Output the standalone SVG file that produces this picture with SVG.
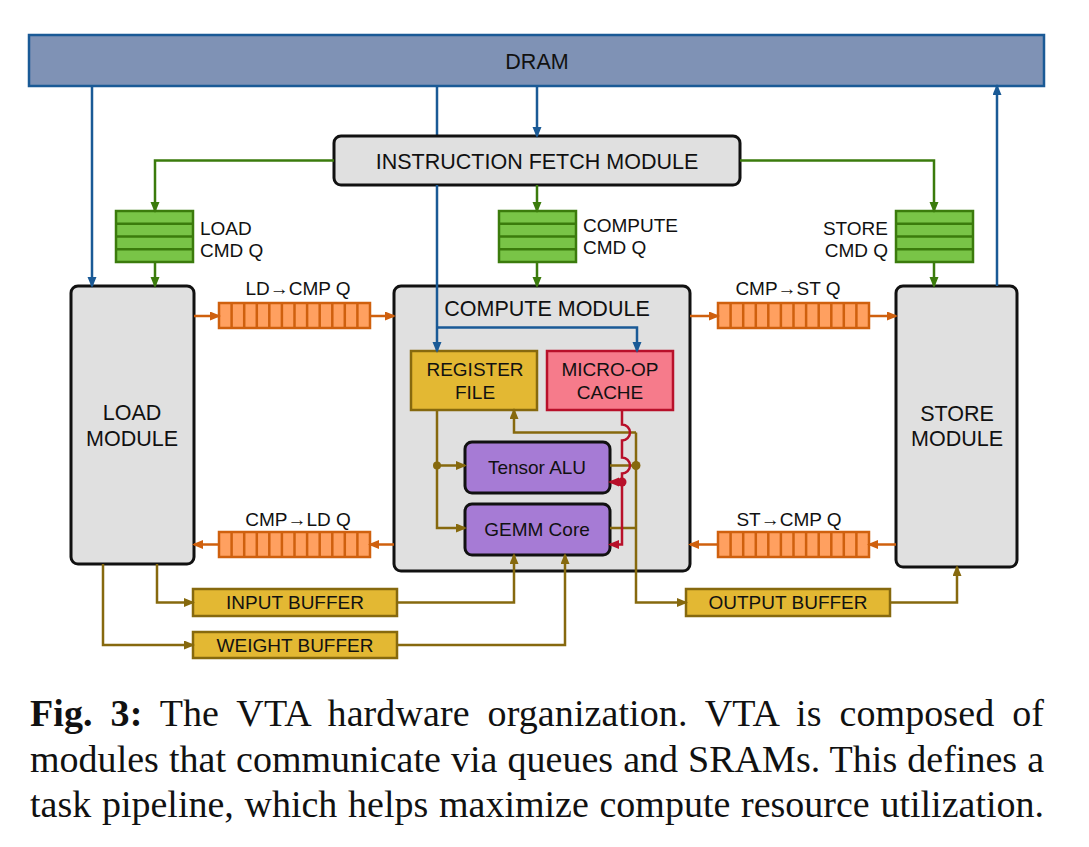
<svg xmlns="http://www.w3.org/2000/svg" width="1089" height="847" viewBox="0 0 1089 847">
<style>
  .t { font-family: "Liberation Sans", Arial, sans-serif; fill: #111; }
  .big { font-size: 21.5px; }
  .sm { font-size: 19px; }
  .mid { text-anchor: middle; }
  .end { text-anchor: end; }
  .mod { fill: #e0e0e0; stroke: #111; stroke-width: 3; }
  .pur { fill: #a67bd5; stroke: #111; stroke-width: 3; }
  .buf { fill: #e3b833; stroke: #86690e; stroke-width: 2.5; }
  .gq { fill: #79c447; stroke: #3b7b0c; stroke-width: 2.5; }
  .oq { fill: #ffa060; stroke: #cf600e; stroke-width: 2.5; }
  .oqc { stroke: #cf600e; stroke-width: 2.5; fill: none; }
  .gqc { stroke: #3b7b0c; stroke-width: 2.5; fill: none; }
  .lb { stroke: #1a5a96; stroke-width: 2.5; fill: none; }
  .lg { stroke: #3b7b0c; stroke-width: 2.5; fill: none; }
  .lo { stroke: #cf600e; stroke-width: 2.5; fill: none; }
  .ly { stroke: #86690e; stroke-width: 2.5; fill: none; }
  .lr { stroke: #b8102a; stroke-width: 2.5; fill: none; }
  .cap { font-family: "Liberation Serif", "Times New Roman", serif; font-size: 38px; fill: #111; }
</style>
<defs>
  <marker id="ab" markerUnits="userSpaceOnUse" markerWidth="12" markerHeight="10" refX="9" refY="4.5" orient="auto"><path d="M0,0 L11,4.5 L0,9 z" fill="#1a5a96"/></marker>
  <marker id="ag" markerUnits="userSpaceOnUse" markerWidth="12" markerHeight="10" refX="9" refY="4.5" orient="auto"><path d="M0,0 L11,4.5 L0,9 z" fill="#3b7b0c"/></marker>
  <marker id="ao" markerUnits="userSpaceOnUse" markerWidth="12" markerHeight="10" refX="9" refY="4.5" orient="auto"><path d="M0,0 L11,4.5 L0,9 z" fill="#cf600e"/></marker>
  <marker id="ay" markerUnits="userSpaceOnUse" markerWidth="12" markerHeight="10" refX="9" refY="4.5" orient="auto"><path d="M0,0 L11,4.5 L0,9 z" fill="#86690e"/></marker>
  <marker id="ar" markerUnits="userSpaceOnUse" markerWidth="12" markerHeight="10" refX="9" refY="4.5" orient="auto"><path d="M0,0 L11,4.5 L0,9 z" fill="#b8102a"/></marker>
</defs>
<rect width="1089" height="847" fill="#fff"/>

<!-- connectors behind the fetch box -->
<g id="connectors-back">
  <path class="lb" d="M437,86 V140"/>
</g>

<g id="dram">
  <rect x="29" y="35" width="1015" height="51" fill="#7f92b5" stroke="#1a5a96" stroke-width="2.5"/>
  <text class="t big mid" x="537" y="69">DRAM</text>
</g>

<g id="fetch">
  <rect x="334" y="136" width="406" height="49" rx="7" class="mod"/>
  <text class="t big mid" x="537" y="168.5">INSTRUCTION FETCH MODULE</text>
</g>

<g id="load-cmd-q">
  <rect x="116" y="211" width="77" height="51" class="gq"/>
  <path class="gqc" d="M116,223.75 H193 M116,236.5 H193 M116,249.25 H193"/>
  <text class="t sm" x="200" y="235">LOAD</text>
  <text class="t sm" x="200" y="257">CMD Q</text>
</g>

<g id="compute-cmd-q">
  <rect x="499" y="211" width="77" height="51" class="gq"/>
  <path class="gqc" d="M499,223.75 H576 M499,236.5 H576 M499,249.25 H576"/>
  <text class="t sm" x="583" y="232">COMPUTE</text>
  <text class="t sm" x="583" y="254">CMD Q</text>
</g>

<g id="store-cmd-q">
  <rect x="896" y="211" width="77" height="51" class="gq"/>
  <path class="gqc" d="M896,223.75 H973 M896,236.5 H973 M896,249.25 H973"/>
  <text class="t sm end" x="888" y="235">STORE</text>
  <text class="t sm end" x="888" y="257">CMD Q</text>
</g>

<g id="load-module">
  <rect x="71" y="286" width="123" height="278" rx="7" class="mod"/>
  <text class="t big mid" x="132" y="420">LOAD</text>
  <text class="t big mid" x="132" y="445.5">MODULE</text>
</g>

<g id="compute-module">
  <rect x="394" y="286" width="296" height="285" rx="7" class="mod"/>
  <text class="t big mid" x="547" y="315.5">COMPUTE MODULE</text>
</g>

<g id="store-module">
  <rect x="896" y="286" width="121" height="281" rx="7" class="mod"/>
  <text class="t big mid" x="957" y="420.5">STORE</text>
  <text class="t big mid" x="957" y="446">MODULE</text>
</g>

<g id="ld-cmp-q">
  <rect x="219" y="303" width="151" height="25" class="oq"/>
  <path class="oqc" d="M231.6,303V328 M244.2,303V328 M256.8,303V328 M269.3,303V328 M281.9,303V328 M294.5,303V328 M307.1,303V328 M319.7,303V328 M332.3,303V328 M344.8,303V328 M357.4,303V328"/>
  <text class="t sm mid" x="298" y="295">LD→CMP Q</text>
</g>

<g id="cmp-st-q">
  <rect x="718" y="303" width="151" height="25" class="oq"/>
  <path class="oqc" d="M730.6,303V328 M743.2,303V328 M755.8,303V328 M768.3,303V328 M780.9,303V328 M793.5,303V328 M806.1,303V328 M818.7,303V328 M831.3,303V328 M843.8,303V328 M856.4,303V328"/>
  <text class="t sm mid" x="788" y="295">CMP→ST Q</text>
</g>

<g id="cmp-ld-q">
  <rect x="219" y="532" width="151" height="25" class="oq"/>
  <path class="oqc" d="M231.6,532V557 M244.2,532V557 M256.8,532V557 M269.3,532V557 M281.9,532V557 M294.5,532V557 M307.1,532V557 M319.7,532V557 M332.3,532V557 M344.8,532V557 M357.4,532V557"/>
  <text class="t sm mid" x="298" y="526">CMP→LD Q</text>
</g>

<g id="st-cmp-q">
  <rect x="718" y="532" width="151" height="25" class="oq"/>
  <path class="oqc" d="M730.6,532V557 M743.2,532V557 M755.8,532V557 M768.3,532V557 M780.9,532V557 M793.5,532V557 M806.1,532V557 M818.7,532V557 M831.3,532V557 M843.8,532V557 M856.4,532V557"/>
  <text class="t sm mid" x="789" y="526">ST→CMP Q</text>
</g>

<g id="register-file">
  <rect x="411" y="351" width="126" height="59" class="buf"/>
  <text class="t sm mid" x="475" y="375.5">REGISTER</text>
  <text class="t sm mid" x="475" y="398.5">FILE</text>
</g>

<g id="micro-op-cache">
  <rect x="547" y="351" width="126" height="59" fill="#f67b8b" stroke="#b8102a" stroke-width="2.5"/>
  <text class="t sm mid" x="610" y="375.5">MICRO-OP</text>
  <text class="t sm mid" x="610" y="398.5">CACHE</text>
</g>

<g id="tensor-alu">
  <rect x="465" y="442" width="145" height="51" rx="7" class="pur"/>
  <text class="t sm mid" x="537" y="474">Tensor ALU</text>
</g>

<g id="gemm-core">
  <rect x="465" y="504" width="145" height="51" rx="7" class="pur"/>
  <text class="t sm mid" x="537" y="536">GEMM Core</text>
</g>

<g id="input-buffer">
  <rect x="193" y="589" width="204" height="27" class="buf"/>
  <text class="t sm mid" x="295" y="609">INPUT BUFFER</text>
</g>

<g id="weight-buffer">
  <rect x="193" y="632" width="204" height="26" class="buf"/>
  <text class="t sm mid" x="295" y="652">WEIGHT BUFFER</text>
</g>

<g id="output-buffer">
  <rect x="686" y="589" width="204" height="27" class="buf"/>
  <text class="t sm mid" x="788" y="609">OUTPUT BUFFER</text>
</g>

<g id="connectors">
  <!-- blue -->
  <path class="lb" d="M92,86 V286" marker-end="url(#ab)"/>
  <path class="lb" d="M537,86 V136" marker-end="url(#ab)"/>
  <path class="lb" d="M997,286 V86" marker-end="url(#ab)"/>
  <path class="lb" d="M437,185 V351" marker-end="url(#ab)"/>
  <path class="lb" d="M437,327.5 H637 V351" marker-end="url(#ab)"/>
  <!-- green -->
  <path class="lg" d="M334,160.5 H155 V211" marker-end="url(#ag)"/>
  <path class="lg" d="M740,160.5 H934 V211" marker-end="url(#ag)"/>
  <path class="lg" d="M537,185 V211" marker-end="url(#ag)"/>
  <path class="lg" d="M155,262 V286" marker-end="url(#ag)"/>
  <path class="lg" d="M537,262 V286" marker-end="url(#ag)"/>
  <path class="lg" d="M934,262 V286" marker-end="url(#ag)"/>
  <!-- orange -->
  <path class="lo" d="M194,316 H219" marker-end="url(#ao)"/>
  <path class="lo" d="M370,316 H394" marker-end="url(#ao)"/>
  <path class="lo" d="M690,316 H718" marker-end="url(#ao)"/>
  <path class="lo" d="M869,316 H896" marker-end="url(#ao)"/>
  <path class="lo" d="M394,544.5 H370" marker-end="url(#ao)"/>
  <path class="lo" d="M219,544.5 H194" marker-end="url(#ao)"/>
  <path class="lo" d="M896,544.5 H869" marker-end="url(#ao)"/>
  <path class="lo" d="M718,544.5 H690" marker-end="url(#ao)"/>
  <!-- gold -->
  <path class="ly" d="M437,410 V528 H465" marker-end="url(#ay)"/>
  <path class="ly" d="M437,465.5 H465" marker-end="url(#ay)"/>
  <path class="ly" d="M636,432.5 H514 V410" marker-end="url(#ay)"/>
  <path class="ly" d="M610,465.5 H636"/>
  <path class="ly" d="M610,528 H636"/>
  <path class="ly" d="M636,432.5 V602.5 H686" marker-end="url(#ay)"/>
  <path class="ly" d="M890,602.5 H957 V567" marker-end="url(#ay)"/>
  <path class="ly" d="M157,564 V602.5 H193" marker-end="url(#ay)"/>
  <path class="ly" d="M103,564 V645 H193" marker-end="url(#ay)"/>
  <path class="ly" d="M397,602.5 H514 V555" marker-end="url(#ay)"/>
  <path class="ly" d="M397,645 H565 V555" marker-end="url(#ay)"/>
  <circle cx="437" cy="465.5" r="4" fill="#86690e"/>
  <circle cx="636" cy="465.5" r="4.5" fill="#86690e"/>
  <!-- red -->
  <path class="lr" d="M622,410 V424.5 A8,8 0 0 1 622,440.5 V457.5 A8,8 0 0 1 622,473.5 V544.5 H610" marker-end="url(#ar)"/>
  <path class="lr" d="M622,482 H610" marker-end="url(#ar)"/>
  <circle cx="622" cy="482" r="4.5" fill="#b8102a"/>
</g>

<g id="caption">
  <text class="cap" x="30" y="726" word-spacing="8.4" textLength="1014" lengthAdjust="spacing"><tspan font-weight="bold">Fig. 3:</tspan> The VTA hardware organization. VTA is composed of</text>
  <text class="cap" x="30" y="772" word-spacing="0.5" textLength="1014" lengthAdjust="spacing">modules that communicate via queues and SRAMs. This defines a</text>
  <text class="cap" x="30" y="817" word-spacing="1.2" textLength="1014" lengthAdjust="spacing">task pipeline, which helps maximize compute resource utilization.</text>
</g>
</svg>
